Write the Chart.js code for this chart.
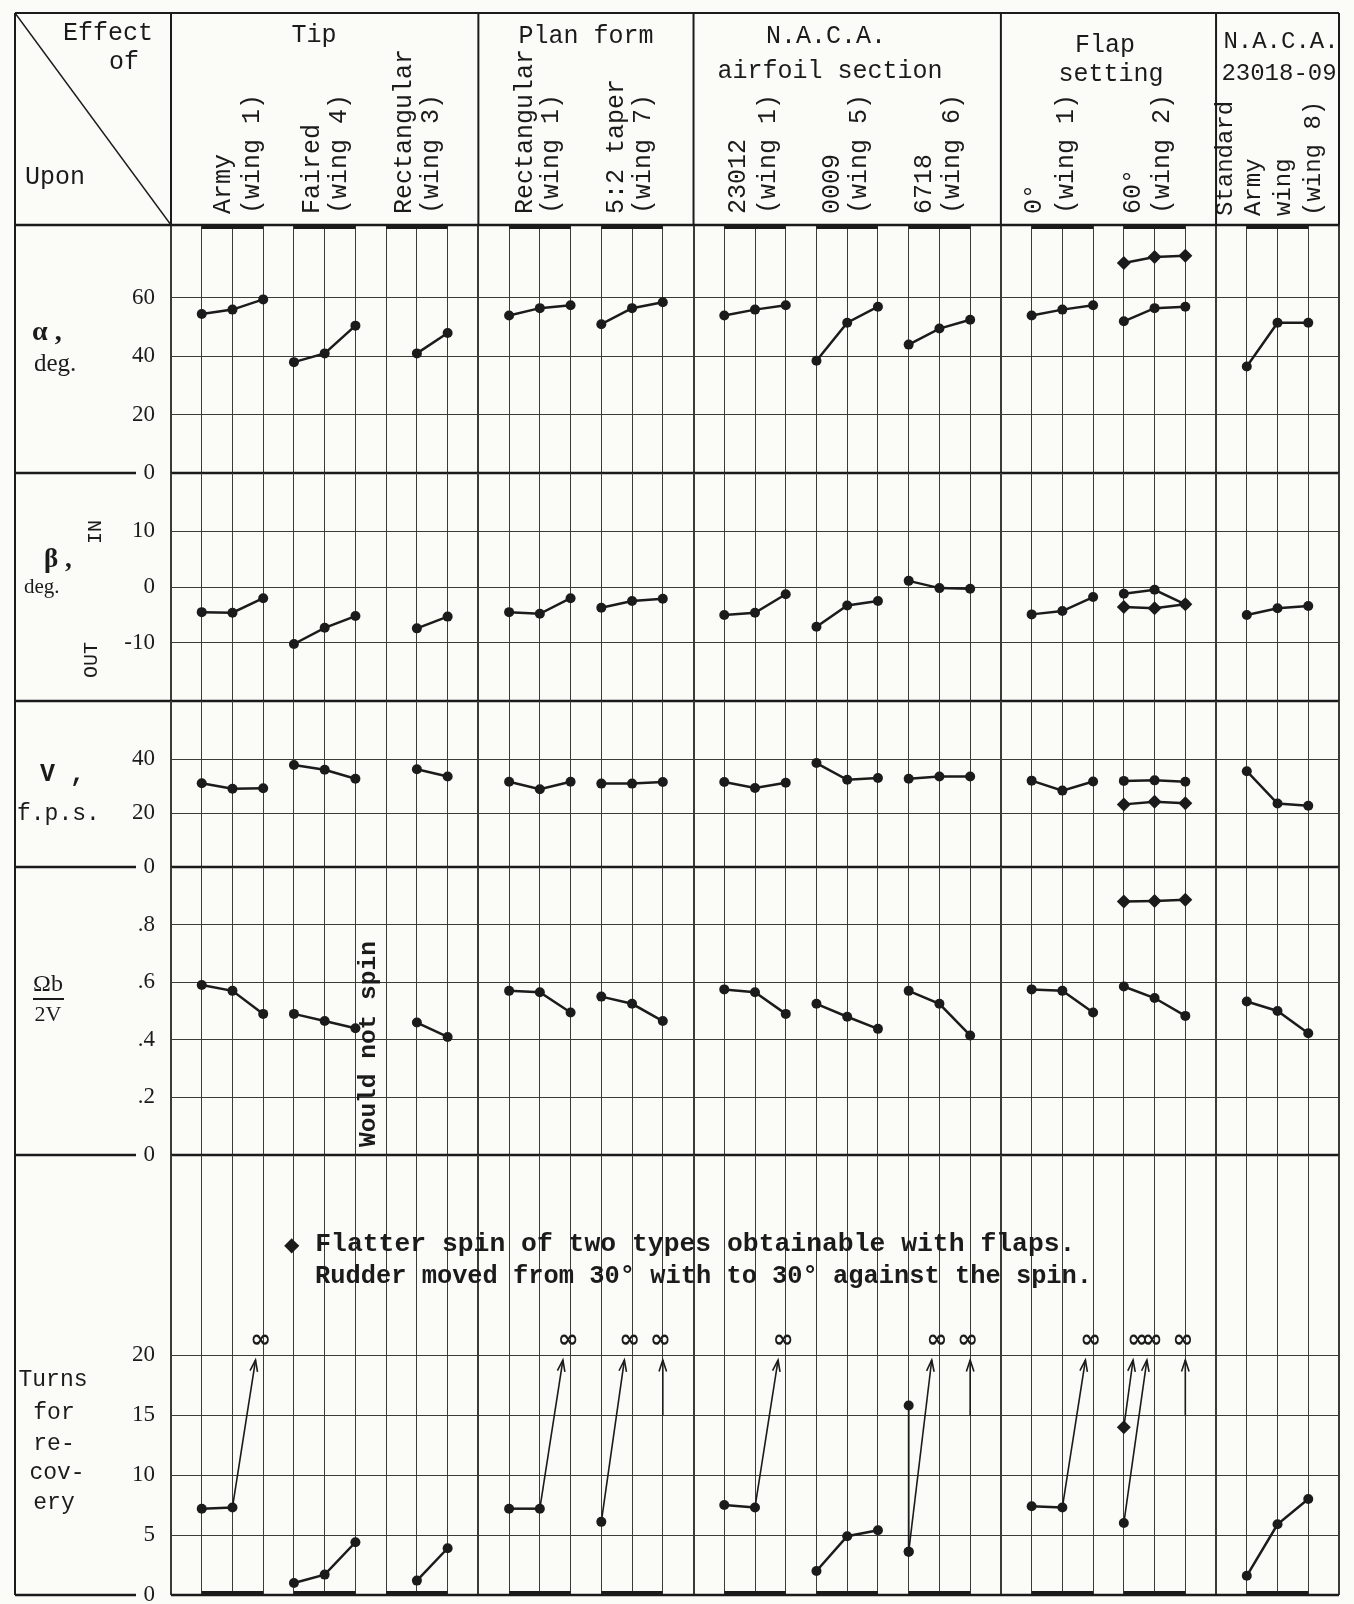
<!DOCTYPE html>
<html>
<head>
<meta charset="utf-8">
<script src="https://cdn.jsdelivr.net/npm/chart.js@4.4.1/dist/chart.umd.min.js"></script>
<style>
  html, body { margin: 0; padding: 0; background: #fbfbf8; }
  #sheet { position: relative; width: 1354px; height: 1604px; overflow: hidden;
           font-family: 'Liberation Mono', monospace; color: #1b1b1b; }
  #sheet canvas { position: absolute; left: 0; }
  .t { position: absolute; white-space: nowrap; line-height: 1; font-size: 25px; }
  .c { transform: translate(-50%, -50%); }
  .v { transform-origin: 0 0; transform: rotate(-90deg); }
  .serif { font-family: 'Liberation Serif', serif; }
  .b { font-weight: bold; }
</style>
</head>
<body>
<div id="sheet">
  <canvas id="alphaChart"></canvas>
  <canvas id="betaChart"></canvas>
  <canvas id="velocityChart"></canvas>
  <canvas id="spinChart"></canvas>
  <canvas id="turnsChart"></canvas>

  <!-- header -->
  <div class="t c" style="left:108px;top:33px">Effect</div>
  <div class="t c" style="left:124px;top:62px">of</div>
  <div class="t c" style="left:55px;top:177px">Upon</div>
  <div class="t c" style="left:314px;top:35px">Tip</div>
  <div class="t c" style="left:586px;top:36px">Plan form</div>
  <div class="t c" style="left:826px;top:36px">N.A.C.A.</div>
  <div class="t c" style="left:830px;top:71px">airfoil section</div>
  <div class="t c" style="left:1105px;top:45px">Flap</div>
  <div class="t c" style="left:1111px;top:74px">setting</div>
  <div class="t c" style="left:1281px;top:42px;font-size:24px">N.A.C.A.</div>
  <div class="t c" style="left:1279px;top:74px;font-size:24px">23018-09</div>

  <div class="t v" style="left:211px;top:214px">Army</div>
  <div class="t v" style="left:240px;top:214px">(wing 1)</div>
  <div class="t v" style="left:300px;top:214px">Faired</div>
  <div class="t v" style="left:327px;top:214px">(wing 4)</div>
  <div class="t v" style="left:392px;top:214px">Rectangular</div>
  <div class="t v" style="left:419px;top:214px">(wing 3)</div>
  <div class="t v" style="left:513px;top:214px">Rectangular</div>
  <div class="t v" style="left:539px;top:214px">(wing 1)</div>
  <div class="t v" style="left:604px;top:214px">5:2 taper</div>
  <div class="t v" style="left:631px;top:214px">(wing 7)</div>
  <div class="t v" style="left:726px;top:214px">23012</div>
  <div class="t v" style="left:756px;top:214px">(wing 1)</div>
  <div class="t v" style="left:820px;top:214px">0009</div>
  <div class="t v" style="left:847px;top:214px">(wing 5)</div>
  <div class="t v" style="left:912px;top:214px">6718</div>
  <div class="t v" style="left:940px;top:214px">(wing 6)</div>
  <div class="t v" style="left:1022px;top:214px">0°</div>
  <div class="t v" style="left:1054px;top:214px">(wing 1)</div>
  <div class="t v" style="left:1121px;top:214px">60°</div>
  <div class="t v" style="left:1150px;top:214px">(wing 2)</div>
  <div class="t v" style="left:1214px;top:216px;font-size:24px">Standard</div>
  <div class="t v" style="left:1242px;top:216px;font-size:24px">Army</div>
  <div class="t v" style="left:1272px;top:216px;font-size:24px">wing</div>
  <div class="t v" style="left:1302px;top:216px;font-size:24px">(wing 8)</div>

  <!-- row labels -->
  <div class="t serif b" style="left:32px;top:317px;font-size:28px">α ,</div>
  <div class="t serif" style="left:34px;top:350px;font-size:25px">deg.</div>
  <div class="t serif b" style="left:44px;top:545px;font-size:27px">β ,</div>
  <div class="t serif" style="left:24px;top:576px;font-size:21px">deg.</div>
  <div class="t v" style="left:86px;top:544px;font-size:20px">IN</div>
  <div class="t v" style="left:82px;top:678px;font-size:20px">OUT</div>
  <div class="t b" style="left:40px;top:762px;font-size:25px">V ,</div>
  <div class="t" style="left:17px;top:803px;font-size:23px">f.p.s.</div>
  <div class="t c serif" style="left:48px;top:983px;font-size:24px">Ωb</div>
  <div style="position:absolute;left:33px;top:998px;width:31px;height:2px;background:#1b1b1b"></div>
  <div class="t c serif" style="left:48px;top:1014px;font-size:22px">2V</div>
  <div class="t c" style="left:53px;top:1380px;font-size:23px">Turns</div>
  <div class="t c" style="left:54px;top:1413px;font-size:23px">for</div>
  <div class="t c" style="left:54px;top:1444px;font-size:23px">re-</div>
  <div class="t c" style="left:57px;top:1473px;font-size:23px">cov-</div>
  <div class="t c" style="left:54px;top:1503px;font-size:23px">ery</div>

  <!-- notes -->
  <div class="t v b" style="left:357px;top:1147px;font-size:24.5px">Would not spin</div>
  <div class="t b" style="left:284px;top:1231px;font-size:26.4px"><span style="font-family:'DejaVu Sans';font-size:20px">◆</span> Flatter spin of two types obtainable with flaps.</div>
  <div class="t b" style="left:315px;top:1264px;font-size:25.4px">Rudder moved from 30° with to 30° against the spin.</div>
</div>

<script>
const INK = '#1b1b1b';
const GRID = '#3b3b35';
const INF = Infinity;

// Wings in header order; each has three test columns on the grid
const wingNames = ['Army tip (wing 1)', 'Faired tip (wing 4)', 'Rectangular tip (wing 3)',
  'Rectangular plan (wing 1)', '5:2 taper (wing 7)', '23012 (wing 1)', '0009 (wing 5)',
  '6718 (wing 6)', 'Flap 0° (wing 1)', 'Flap 60° (wing 2)', 'Standard Army (wing 8)'];
const wingSlots = [[1, 2, 3], [4, 5, 6], [7, 8, 9], [11, 12, 13], [14, 15, 16],
  [18, 19, 20], [21, 22, 23], [24, 25, 26], [28, 29, 30], [31, 32, 33], [35, 36, 37]];
const groupEdges = [0, 10, 17, 27, 34, 38];

// alpha, deg.
const alphaDeg = [
  [54.5, 56, 59.5], [38, 41, 50.5], [null, 41, 48], [54, 56.5, 57.5], [51, 56.5, 58.5],
  [54, 56, 57.5], [38.5, 51.5, 57], [44, 49.5, 52.5], [54, 56, 57.5], [52, 56.5, 57],
  [36.5, 51.5, 51.5]
];
// beta, deg. (IN positive)
const betaDeg = [
  [-4.5, -4.6, -2], [-10.2, -7.3, -5.2], [null, -7.4, -5.3], [-4.5, -4.8, -2], [-3.7, -2.5, -2.1],
  [-5, -4.6, -1.3], [-7.1, -3.3, -2.5], [1.1, -0.2, -0.3], [-4.9, -4.3, -1.8], [-1.2, -0.5, -3.1],
  [-5, -3.8, -3.4]
];
// V, f.p.s.
const velocity = [
  [31, 29, 29.2], [37.8, 36, 32.7], [null, 36.2, 33.5], [31.6, 28.8, 31.6], [30.9, 30.9, 31.5],
  [31.5, 29.3, 31.2], [38.5, 32.3, 33], [32.7, 33.5, 33.5], [32, 28.3, 31.7], [31.9, 32.1, 31.6],
  [35.5, 23.5, 22.7]
];
// Omega b / 2V
const spinCoef = [
  [0.59, 0.57, 0.49], [0.49, 0.465, 0.44], [null, 0.46, 0.41], [0.57, 0.565, 0.495], [0.55, 0.525, 0.465],
  [0.575, 0.565, 0.49], [0.525, 0.48, 0.438], [0.57, 0.525, 0.415], [0.575, 0.57, 0.495], [0.585, 0.545, 0.483],
  [0.533, 0.5, 0.423]
];
// turns for recovery (INF = did not recover)
const turnsRecovery = [
  [7.2, 7.3, INF], [1.0, 1.7, 4.4], [null, 1.2, 3.9], [7.2, 7.2, INF], [6.1, INF, INF],
  [7.5, 7.3, INF], [2.0, 4.9, 5.4], [3.6, INF, INF], [7.4, 7.3, INF], [6.0, INF, INF],
  [1.6, 5.9, 8.0]
];
const turns6718Second = [15.8, null, null];

// flatter spin with 60° flaps (diamonds), wing 2
const flatAlpha = [72, 74, 74.5];
const flatBeta = [-3.6, -3.8, -3.1];
const flatVelocity = [23.2, 24.2, 23.6];
const flatSpinCoef = [0.88, 0.882, 0.886];
const flatTurns = [14.0, INF, null];

const alphaTicks = [0, 20, 40, 60];
const betaTicks = [-10, 0, 10];
const velocityTicks = [0, 20, 40];
const spinTicks = [0, 0.2, 0.4, 0.6, 0.8];
const turnsTicks = [0, 5, 10, 15, 20];

const FLAT_WING = 9;
const LEFT = 15, RIGHT = 1339, LABEL_EDGE = 171, PAD = 20;

function lineSet(slots, row, style) {
  return {
    data: slots.map((s, i) => ({ x: s, y: row[i] })).filter(p => p.y != null && isFinite(p.y)),
    borderColor: INK,
    backgroundColor: INK,
    borderWidth: 2.5,
    pointStyle: style,
    pointRadius: style === 'circle' ? 5 : 7,
    pointBorderWidth: 0,
    pointBackgroundColor: INK,
    tension: 0
  };
}

function wingDatasets(rows, flat) {
  const sets = rows.map((row, w) => lineSet(wingSlots[w], row, 'circle'));
  if (flat) sets.push(lineSet(wingSlots[FLAT_WING], flat, 'rectRot'));
  return sets;
}

// Frame: borders, separators, header rules, wing bars
const framePlugin = {
  id: 'frame',
  afterDraw(chart, args, o) {
    const { ctx, chartArea: a, scales: { x } } = chart;
    const seg = (x1, y1, x2, y2, w) => {
      ctx.lineWidth = w;
      ctx.beginPath(); ctx.moveTo(x1, y1); ctx.lineTo(x2, y2); ctx.stroke();
    };
    ctx.save();
    ctx.strokeStyle = INK;
    ctx.fillStyle = INK;
    seg(LEFT, a.top, LEFT, a.bottom, 2);
    if (o.zero) {
      seg(LEFT, a.bottom, a.left - 35, a.bottom, 2.5);
      seg(a.left, a.bottom, a.right, a.bottom, 2.5);
    } else {
      seg(LEFT, a.bottom, a.right, a.bottom, 2.5);
    }
    if (o.header) {
      const top = 13;
      seg(LEFT, top, a.right, top, 2);
      seg(LEFT, a.top, a.right, a.top, 2.5);
      seg(LEFT, top, LEFT, a.top, 2);
      groupEdges.forEach(g => {
        const gx = x.getPixelForValue(g);
        seg(gx, top, gx, a.top, 2);
      });
      seg(LEFT, top, a.left, a.top, 1.4);
    }
    if (o.bars) {
      wingSlots.forEach(s => {
        const x1 = x.getPixelForValue(s[0]);
        const x2 = x.getPixelForValue(s[s.length - 1]);
        const yb = o.bars === 'top' ? a.top : a.bottom - 4;
        ctx.fillRect(x1, yb, x2 - x1, 4);
      });
    }
    ctx.restore();
  }
};

// Arrows and infinity marks for spins that did not recover
const infinityPlugin = {
  id: 'infinity',
  afterDatasetsDraw(chart) {
    const { ctx, scales: { x, y } } = chart;
    const series = turnsRecovery.map((row, w) => ({ slots: wingSlots[w], row, lead: 0.25, shift: 0.08 }));
    series.push({ slots: wingSlots[FLAT_WING], row: flatTurns, lead: 0.7, shift: 0.55 });
    const TIP = 19.6, FLOOR = 15, MARK = 21.2;
    ctx.save();
    ctx.strokeStyle = INK;
    ctx.fillStyle = INK;
    ctx.lineWidth = 1.6;
    ctx.font = 'bold 25px "DejaVu Sans"';
    ctx.textAlign = 'center';
    ctx.textBaseline = 'middle';
    series.forEach(({ slots, row, lead, shift }) => {
      row.forEach((v, i) => {
        if (v !== INF) return;
        let x0, y0, x1;
        if (i > 0 && row[i - 1] != null && isFinite(row[i - 1])) {
          x0 = x.getPixelForValue(slots[i - 1]);
          y0 = y.getPixelForValue(row[i - 1]);
          x1 = x.getPixelForValue(slots[i] - lead);
        } else {
          x0 = x1 = x.getPixelForValue(slots[i]);
          y0 = y.getPixelForValue(FLOOR);
        }
        const y1 = y.getPixelForValue(TIP);
        ctx.beginPath(); ctx.moveTo(x0, y0); ctx.lineTo(x1, y1); ctx.stroke();
        const ang = Math.atan2(y1 - y0, x1 - x0);
        ctx.beginPath();
        ctx.moveTo(x1 - 12 * Math.cos(ang - 0.32), y1 - 12 * Math.sin(ang - 0.32));
        ctx.lineTo(x1, y1);
        ctx.lineTo(x1 - 12 * Math.cos(ang + 0.32), y1 - 12 * Math.sin(ang + 0.32));
        ctx.stroke();
        ctx.fillText('∞', x.getPixelForValue(slots[i] - shift), y.getPixelForValue(MARK));
      });
    });
    ctx.restore();
  }
};

function makePanel(id, cfg) {
  const canvas = document.getElementById(id);
  const padTop = cfg.padTop || PAD;
  canvas.width = 1354;
  canvas.height = cfg.bottom - cfg.top + padTop + PAD;
  canvas.style.top = (cfg.top - padTop) + 'px';
  return new Chart(canvas, {
    type: 'line',
    data: { datasets: cfg.datasets },
    options: {
      responsive: false,
      animation: false,
      devicePixelRatio: 1,
      layout: { padding: { left: LEFT, right: 1354 - RIGHT, top: padTop, bottom: PAD } },
      plugins: {
        legend: { display: false },
        tooltip: { enabled: false },
        frame: { zero: cfg.zero, header: cfg.header, bars: cfg.bars }
      },
      scales: {
        x: {
          type: 'linear', min: 0, max: 38,
          ticks: { stepSize: 1, display: false },
          grid: {
            color: GRID,
            lineWidth: c => groupEdges.includes(c.tick.value) ? 2 : 1,
            drawTicks: false
          },
          border: { display: false },
          afterFit: s => { s.height = 0; s.paddingLeft = 0; s.paddingRight = 0; }
        },
        y: {
          type: 'linear', min: cfg.min, max: cfg.max,
          afterBuildTicks: s => { s.ticks = cfg.ticks.map(v => ({ value: v })); },
          afterFit: s => { s.width = LABEL_EDGE - LEFT; s.paddingTop = 0; s.paddingBottom = 0; },
          ticks: {
            color: INK,
            padding: 16,
            font: { family: 'Liberation Serif', size: 23 },
            callback: cfg.format || (v => String(v))
          },
          grid: { color: GRID, lineWidth: 1, drawTicks: false },
          border: { display: false }
        }
      }
    },
    plugins: cfg.plugins || [framePlugin]
  });
}

const charts = {};

charts.alpha = makePanel('alphaChart', {
  top: 225, bottom: 473, padTop: 225, min: 0, max: 85, ticks: alphaTicks,
  datasets: wingDatasets(alphaDeg, flatAlpha), zero: true, header: true, bars: 'top'
});

charts.beta = makePanel('betaChart', {
  top: 473, bottom: 701, min: -20.4, max: 20.4, ticks: betaTicks,
  datasets: wingDatasets(betaDeg, flatBeta), zero: false
});

charts.velocity = makePanel('velocityChart', {
  top: 701, bottom: 867, min: 0, max: 61.5, ticks: velocityTicks,
  datasets: wingDatasets(velocity, flatVelocity), zero: true
});

charts.spin = makePanel('spinChart', {
  top: 867, bottom: 1155, min: 0, max: 1.0, ticks: spinTicks,
  format: v => v === 0 ? '0' : '.' + Math.round(v * 10),
  datasets: wingDatasets(spinCoef, flatSpinCoef), zero: true
});

const turnsSets = wingDatasets(turnsRecovery, flatTurns);
// second test on the 6718 wing, joined to the first by a vertical line
turnsSets.push({
  ...lineSet(wingSlots[7], turns6718Second, 'circle'),
  data: [{ x: wingSlots[7][0], y: turnsRecovery[7][0] }, { x: wingSlots[7][0], y: turns6718Second[0] }],
  borderWidth: 1.8
});

charts.turns = makePanel('turnsChart', {
  top: 1155, bottom: 1595, min: 0, max: 36.7, ticks: turnsTicks,
  datasets: turnsSets, zero: true, bars: 'bottom',
  plugins: [framePlugin, infinityPlugin]
});
</script>
</body>
</html>
